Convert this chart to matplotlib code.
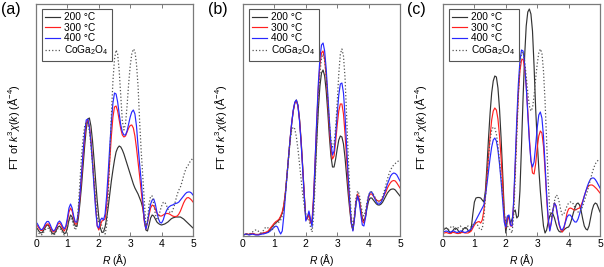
import numpy as np
import matplotlib
matplotlib.use("Agg")
import matplotlib.pyplot as plt

plt.rcParams['font.family'] = ['Liberation Sans', 'DejaVu Sans']
plt.rcParams['mathtext.fontset'] = 'custom'
plt.rcParams['mathtext.rm'] = 'Liberation Sans'
plt.rcParams['mathtext.it'] = 'Liberation Sans:italic'
plt.rcParams['mathtext.bf'] = 'Liberation Sans:bold'

labels = ['200 °C', '300 °C', '400 °C', r'CoGa$_2$O$_4$']
panel_names = ['(a)', '(b)', '(c)']
x_ticks = [0, 1, 2, 3, 4, 5]

# ---------- panel (a) ----------
black_a = [9, 7, 4.5, 3, 3.5, 6, 9, 11, 10.5, 7, 3.5, 2, 3, 6, 9, 10, 8, 5, 2.5, 3,
           8, 16, 21, 19, 14, 10, 9.5, 18, 33, 50, 70, 90, 107, 117, 118, 110, 95, 76, 55, 35,
           19, 8, 3.5, 4, 9, 18, 29, 42, 55, 66, 76, 84, 88, 90, 89, 86, 82, 77, 72, 67,
           62, 57, 52, 48, 45, 42, 38, 34, 28, 17, 6, 5, 11, 18, 21, 20, 17, 14, 12.5, 11.5,
           11, 11.5, 12, 13, 14, 15.5, 17, 18, 18.5, 19, 19, 19, 19, 18, 17, 15.5, 14, 12.5, 11, 9.5,
           8]
red_a = [12, 10, 7.5, 5.5, 5.5, 8, 10.5, 12, 12, 9, 6, 4, 5, 8.5, 12, 13, 11, 7.5, 5, 8,
         15, 24, 28, 25, 18, 12, 12, 22, 39, 59, 80, 99, 113, 116, 110, 96, 76, 53, 30, 10,
         6, 11, 15, 16, 17, 30, 52, 76, 100, 119, 129, 130, 125, 116, 107, 101, 99, 100, 104, 108,
         110.5, 111, 108, 100, 88, 74, 60, 45, 30, 14, 7, 13, 21, 28, 31, 30, 27, 23, 21, 20,
         20, 21, 22, 22.5, 22.5, 22, 21, 20, 19.5, 19.5, 20, 22, 25, 29, 33, 36, 38, 38.5, 37.5, 36,
         34]
blue_a = [14, 12, 9, 6.5, 6.5, 9, 12.5, 14.5, 14.5, 11.5, 7.5, 5, 6, 9.5, 13.5, 15, 13, 9.5, 7, 10,
          18, 28, 32, 28, 20, 14, 14, 24, 42, 63, 84, 103, 116, 117, 109, 93, 72, 48, 26, 10,
          8, 16, 18, 16, 22, 40, 64, 90, 114, 133, 143, 142, 134, 122, 111, 104, 101, 101, 105, 112,
          119, 124, 126, 122, 110, 90, 72, 55, 36, 16, 7, 14, 24, 32, 36, 37, 32, 24, 17, 13.5,
          13, 16, 21, 25, 28, 29.5, 30.5, 31, 32, 32.5, 33, 34, 36, 38, 40, 42, 43.5, 44, 44, 43,
          41]
ref_a = [5, 4, 2.5, 1, 1.5, 4, 6.5, 8, 7.5, 5, 2, 1, 2, 5, 7.5, 8, 6, 3, 1, 3,
         9, 15, 18, 16, 10, 6, 9, 30, 55, 80, 98, 110, 114, 113, 105, 90, 72, 55, 38, 20,
         13, 14, 10, 5, 2, 10, 40, 80, 120, 155, 177, 186, 182, 165, 140, 115, 106, 112, 130, 152,
         170, 182, 187, 185, 172, 150, 115, 85, 60, 35, 10, 15, 32, 40, 40, 32, 22, 16, 18, 25,
         30, 33.5, 34, 31, 27, 24, 23, 25, 30, 36, 42, 46, 49, 54, 60, 65, 69, 71, 74, 76,
         78]

# ---------- panel (b) ----------
black_b = [1, 1.5, 2, 1.5, 1.5, 2, 2.5, 2, 1.5, 1.5, 1.5, 2, 2.5, 3, 3, 3.5, 4, 6, 8, 10,
           12, 13.5, 14.5, 16, 19, 23, 30, 43, 60, 78, 96, 112, 125, 133, 136, 131, 117, 96, 70, 42,
           17, 18, 23, 14, 15, 35, 65, 97, 127, 150, 163, 166, 160, 145, 124, 100, 80, 69, 69, 77,
           87, 96, 100, 99, 92, 78, 60, 42, 26, 12, 6, 18, 33, 40, 36, 27, 18, 15, 19, 28,
           35, 38, 38, 36, 34, 32, 31, 31, 32, 34, 37, 40, 43, 45, 46.5, 47, 47, 46, 44, 42,
           40]
red_b = [1, 1.5, 2, 2, 1.5, 2, 2.5, 2, 1.5, 1.5, 1.5, 2, 2.5, 3, 3.5, 4, 5, 7, 9, 11,
         13, 14.5, 15.5, 17, 20, 24, 31, 44, 61, 79, 97, 113, 125, 133, 135, 130, 116, 95, 69, 42,
         17, 17, 22, 13, 16, 42, 78, 115, 148, 171, 183, 185, 177, 159, 135, 109, 87, 77, 80, 94,
         111, 125, 132, 132, 122, 102, 77, 52, 30, 13, 6, 19, 35, 42, 37, 26, 15, 13, 20, 31,
         39, 42, 42, 40, 38, 36, 35, 35, 36, 38, 41, 44, 48, 51, 53.5, 55, 55.5, 55, 53, 50.5,
         48]
blue_b = [1, 1.5, 2, 1.5, 1, 1.5, 2, 1.5, 1, 1, 1, 1.5, 2, 2, 2.5, 3, 3.5, 4.5, 6, 7.5,
          9, 10, 9, 5, 2, 5, 20, 40, 60, 79, 97, 113, 126, 134, 136, 130, 115, 93, 67, 40,
          15, 19, 25, 17, 9, 38, 78, 118, 153, 178, 191, 193, 185, 167, 142, 116, 93, 81, 85, 101,
          122, 141, 152, 153, 143, 120, 90, 60, 34, 14, 5, 17, 33, 40, 34, 22, 11, 10, 18, 31,
          40, 44, 44, 41, 37, 34, 32, 32, 34, 37, 42, 47, 52, 56, 60, 62, 63, 62.5, 61, 58,
          55]
ref_b = [1, 1, 1.5, 2, 2, 3, 4, 5, 6, 6, 4.5, 3, 3.5, 5.5, 8, 9, 8, 6, 5, 7,
         10, 12.5, 13.5, 14, 16, 20, 28, 42, 60, 78, 95, 106, 109, 107, 99, 87, 72, 57, 42, 30,
         22, 19, 16, 9, 4, 20, 55, 95, 135, 163, 178, 182, 176, 160, 137, 113, 96, 89, 92, 108,
         133, 162, 182, 187, 180, 158, 120, 80, 45, 20, 8, 22, 38, 45, 42, 33, 23, 20, 25, 34,
         41, 44, 44, 42, 39, 36, 34, 34, 36, 40, 45, 51, 57, 62, 66, 69, 71, 72.5, 74, 75,
         76]

# ---------- panel (c) ----------
black_c = [6, 7, 8, 7, 4.5, 3, 4.5, 7, 8, 7, 4.5, 3, 4.5, 7, 8.5, 8, 5.5, 4, 8, 22,
           34, 38, 38.5, 38.5, 38, 36, 34, 45, 70, 98, 123, 143, 155, 160, 159, 148, 127, 98, 63, 25,
           3, 16, 20, 13, 17, 24, 26, 18, 20, 45, 90, 138, 180, 210, 224, 227, 222, 205, 170, 128,
           95, 68, 45, 26, 10, 3, 6, 14, 20, 23, 22, 18, 12, 7, 4.5, 4, 4.5, 6, 7.5, 8.5,
           9, 12, 17, 23, 28, 32, 33, 31, 25, 17, 10, 7, 6, 10, 18, 26, 31, 33, 32, 28,
           24]
red_c = [3, 3, 3.5, 3, 2.5, 2.5, 3.5, 3.5, 3, 2.5, 2.5, 3, 3.5, 3.5, 3, 3, 3, 4, 5, 8,
         11, 13, 14, 14.5, 13, 16, 25, 40, 60, 80, 100, 116, 125, 128, 126, 117, 100, 78, 52, 20,
         8, 19, 17, 10, 10, 32, 68, 108, 142, 165, 176, 177, 168, 150, 125, 98, 76, 63, 62, 72,
         88, 100, 105, 103, 90, 66, 38, 15, 6, 14, 26, 33, 30, 20, 11, 6, 4, 7, 15, 23,
         27, 28, 27.5, 26.5, 26, 26.5, 27.5, 28, 31, 35, 40, 45, 48.5, 50.5, 51, 51, 50, 48.5, 47, 45,
         43]
blue_c = [4, 4.5, 5, 4.5, 3.5, 4, 5, 5, 4, 3.5, 4, 5, 5, 4, 3.5, 4, 5, 6, 7, 10,
          13, 16, 19, 22, 25, 28, 31, 40, 52, 65, 78, 89, 96, 98, 95, 86, 72, 55, 35, 14,
          9, 20, 21, 11, 10, 35, 75, 117, 152, 175, 186, 185, 172, 150, 122, 95, 75, 69, 74, 90,
          108, 121, 124, 118, 100, 72, 42, 18, 5, 13, 26, 33, 30, 21, 12, 7, 6, 9, 14, 19,
          21, 21, 19, 16, 14, 14, 17, 22, 28, 34, 40, 45, 50, 54, 57, 58, 58, 56.5, 54, 51,
          48]
ref_c = [8, 9, 8, 6, 7, 9, 10, 8.5, 6.5, 7, 9, 10, 8.5, 6.5, 7, 9, 10, 9, 9, 11,
         13, 13, 11, 8, 6, 7, 18, 38, 60, 80, 96, 106, 109, 108, 102, 90, 75, 58, 40, 24,
         14, 10, 8, 5, 3, 20, 58, 100, 142, 170, 183, 184, 175, 160, 143, 130, 125, 128, 140, 157,
         172, 183, 187, 183, 165, 135, 95, 55, 25, 18, 24, 35, 41, 40, 34, 26, 21, 22, 26, 30,
         33, 34, 34, 32, 28.5, 25.5, 24, 24, 26, 30, 35, 40, 45, 51, 57, 63, 68, 72, 74.5, 76,
         76]

panels = [
    (black_a, red_a, blue_a, ref_a),
    (black_b, red_b, blue_b, ref_b),
    (black_c, red_c, blue_c, ref_c),
]

W, H = 604, 267
fig = plt.figure(figsize=(W / 100, H / 100), dpi=100)

lefts = [36, 243, 443]
ax_w = 157
ax_top, ax_bot = 4, 236
letter_x = [1, 208, 407]

colors = ['#333333', '#ff2020', '#2828ff', '#555555']
styles = ['-', '-', '-', ':']
spine_col = '#7a7a7a'

for k, (series, left) in enumerate(zip(panels, lefts)):
    ax = fig.add_axes([left / W, (H - ax_bot) / H, ax_w / W, (ax_bot - ax_top) / H])
    for vals, c, ls, lab in zip(series, colors, styles, labels):
        r = np.linspace(0, 5, len(vals))
        ax.plot(r, vals, color=c, ls=ls, lw=0.85 if ls == '-' else 0.9, label=lab)
    ax.set_xlim(0, 5)
    ax.set_ylim(0, 232)
    ax.set_xticks(x_ticks)
    ax.set_xticklabels([str(t) for t in x_ticks])
    ax.set_yticks([])
    ax.tick_params(axis='x', direction='in', top=True, length=3, width=0.7,
                   color=spine_col, labelsize=7.5, pad=2.5)
    for s in ax.spines.values():
        s.set_color(spine_col)
        s.set_linewidth(0.9)
    ax.set_xlabel(r'$R$ (Å)', fontsize=7.5, labelpad=1.5)
    ax.set_ylabel(r'FT of $k^3\chi(k)$ (Å$^{-4}$)', fontsize=7.8)
    ax.yaxis.set_label_coords(-0.09, 0.47)
    leg = ax.legend(loc='upper left', bbox_to_anchor=(0.038, 0.978), fontsize=7.3,
                    frameon=True, fancybox=False, framealpha=1, edgecolor='#555555',
                    handlelength=1.45, handletextpad=0.45, labelspacing=0.05,
                    borderpad=0.3, borderaxespad=0.0)
    leg.get_frame().set_linewidth(0.8)
    fig.text(letter_x[k] / W, 1 - 2 / H, panel_names[k], fontsize=11.5, va='top', ha='left')

fig.savefig('out.png', dpi=100)
